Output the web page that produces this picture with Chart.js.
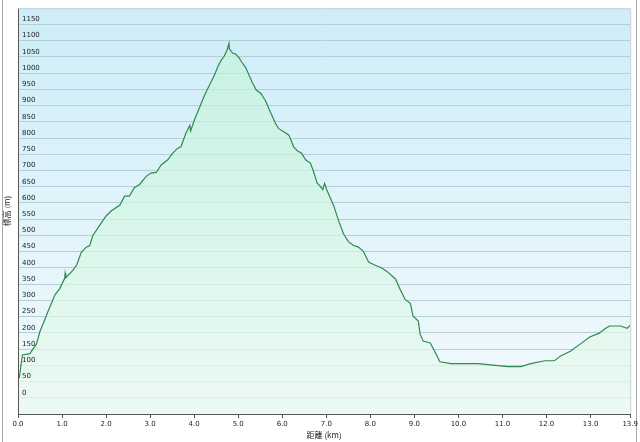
<!DOCTYPE html>
<html>
<head>
<meta charset="utf-8">
<script src="https://cdn.jsdelivr.net/npm/chart.js@4.4.1/dist/chart.umd.min.js"></script>
<style>
	html, body { margin: 0; padding: 0; background: #fff; }
	#wrap { width: 640px; height: 442px; position: relative; }
</style>
</head>
<body>
<div id="wrap"><canvas id="profile" width="640" height="442"></canvas></div>
<script>
// Distance along the route (km) and elevation (m)
var distKm = [0.0, 0.03, 0.1, 0.27, 0.42, 0.5, 0.61, 0.68, 0.84, 0.95, 1.06, 1.07, 1.085, 1.25, 1.33, 1.44, 1.55, 1.63, 1.7, 1.85,
	2.0, 2.12, 2.31, 2.42, 2.53, 2.64, 2.76, 2.91, 3.02, 3.14, 3.25, 3.4, 3.51, 3.62, 3.7, 3.81, 3.9, 3.92, 4.0, 4.11,
	4.23, 4.34, 4.45, 4.53, 4.6, 4.68, 4.75, 4.79, 4.8, 4.87, 4.94, 5.02, 5.09, 5.17, 5.32, 5.41, 5.51, 5.62, 5.73, 5.85,
	5.92, 6.07, 6.15, 6.26, 6.34, 6.44, 6.53, 6.64, 6.71, 6.79, 6.86, 6.92, 6.96, 7.01, 7.17, 7.28, 7.39, 7.5, 7.62, 7.73,
	7.84, 7.96, 8.11, 8.26, 8.37, 8.57, 8.68, 8.79, 8.91, 8.97, 9.09, 9.13, 9.2, 9.36, 9.43, 9.58, 9.83, 10.44, 10.9, 11.12,
	11.42, 11.64, 11.96, 12.18, 12.32, 12.55, 12.77, 12.98, 13.2, 13.31, 13.43, 13.68, 13.83, 13.9];
var elevM = [60, 62, 132, 136, 166, 205, 241, 266, 317, 337, 368, 383, 370, 393, 408, 449, 464, 469, 500, 530,
	560, 576, 593, 621, 621, 647, 657, 682, 692, 694, 717, 733, 753, 768, 773, 814, 839, 822, 854, 890,
	930, 961, 991, 1017, 1037, 1052, 1072, 1092, 1075, 1062, 1059, 1047, 1032, 1017, 971, 948, 938, 915, 880, 844,
	829, 816, 809, 773, 761, 753, 733, 723, 697, 662, 652, 641, 660, 641, 591, 545, 505, 481, 469, 464,
	451, 418, 408, 400, 390, 366, 333, 303, 290, 251, 236, 196, 175, 169, 151, 111, 105, 105, 99, 96,
	96, 105, 114, 114, 129, 144, 166, 187, 199, 211, 221, 221, 214, 223];

// Tick labels
var xTicks = [0, 1, 2, 3, 4, 5, 6, 7, 8, 9, 10, 11, 12, 13, 13.9];
var yTicks = [0, 50, 100, 150, 200, 250, 300, 350, 400, 450, 500, 550, 600, 650, 700, 750, 800, 850, 900, 950, 1000, 1050, 1100, 1150];

var points = [];
for (var i = 0; i < distKm.length; i++)
	points.push({ x: distKm[i], y: elevM[i] });

// Background, frame and plot border
var framePlugin = {
	id: 'frame',
	beforeDraw: function(chart) {
		var c = chart.ctx, a = chart.chartArea;
		c.save();
		c.fillStyle = '#ffffff';
		c.fillRect(0, 0, chart.width, chart.height);
		var g = c.createLinearGradient(0, a.top, 0, a.bottom);
		g.addColorStop(0, '#cdedf8');
		g.addColorStop(1, '#f3fafd');
		c.fillStyle = g;
		c.fillRect(a.left, a.top, a.right - a.left, a.bottom - a.top);
		c.strokeStyle = '#a8a8a8';
		c.lineWidth = 1;
		c.beginPath();
		c.moveTo(2.5, 0); c.lineTo(2.5, chart.height);
		c.moveTo(636.5, 0); c.lineTo(636.5, chart.height);
		c.stroke();
		c.restore();
	},
	afterDraw: function(chart) {
		var c = chart.ctx, a = chart.chartArea;
		c.save();
		c.strokeStyle = '#c4d2d6';
		c.lineWidth = 1;
		c.beginPath();
		c.moveTo(a.left, a.top + 0.5); c.lineTo(a.right + 0.5, a.top + 0.5);
		c.lineTo(a.right + 0.5, a.bottom);
		c.stroke();
		c.restore();
	}
};

function fillGradient(context)
{
	var a = context.chart.chartArea;
	if (!a)
		return '#dff6ea';
	var g = context.chart.ctx.createLinearGradient(0, a.top, 0, a.bottom);
	g.addColorStop(0, 'rgba(190,242,212,0.6)');
	g.addColorStop(1, 'rgba(234,250,240,0.75)');
	return g;
}

var tickFont = { family: 'DejaVu Sans', size: 7 };

new Chart(document.getElementById('profile'), {
	type: 'line',
	data: {
		datasets: [{
			data: points,
			borderColor: '#2f8a4e',
			borderWidth: 1.2,
			backgroundColor: fillGradient,
			fill: 'start',
			pointRadius: 0,
			tension: 0
		}]
	},
	options: {
		responsive: false,
		animation: false,
		events: [],
		layout: { padding: { left: 0, top: 3, right: 7, bottom: 0 } },
		plugins: { legend: { display: false }, tooltip: { enabled: false } },
		scales: {
			x: {
				type: 'linear',
				min: 0,
				max: 13.9,
				afterBuildTicks: function(scale) {
					scale.ticks = xTicks.map(function(v) { return { value: v }; });
				},
				afterFit: function(scale) { scale.height = 28; },
				ticks: {
					autoSkip: false,
					maxRotation: 0,
					padding: 2,
					color: '#222',
					font: tickFont,
					callback: function(v) { return Number(v).toFixed(1); }
				},
				grid: { drawOnChartArea: false, drawTicks: true, tickLength: 4, color: '#555' },
				border: { display: true, color: '#555', width: 1, z: 1 },
				title: { display: true, text: '距離 (km)', color: '#222', font: { family: 'Noto Sans CJK JP', size: 8 }, padding: { top: 0, bottom: 2 } }
			},
			y: {
				min: -50,
				max: 1200,
				afterBuildTicks: function(scale) {
					scale.ticks = yTicks.map(function(v) { return { value: v }; });
				},
				afterFit: function(scale) { scale.width = 18; },
				ticks: {
					z: 1,
					autoSkip: false,
					mirror: true,
					padding: 4,
					labelOffset: -5,
					color: '#222',
					font: tickFont,
					callback: function(v) { return String(v); }
				},
				grid: { drawTicks: false, color: '#b6ced6', lineWidth: 1 },
				border: { display: true, color: '#555', width: 1, z: 1 },
				title: { display: true, text: '標高 (m)', color: '#222', font: { family: 'Noto Sans CJK JP', size: 8 }, padding: { top: 2, bottom: 0 } }
			}
		}
	},
	plugins: [framePlugin]
});
</script>
</body>
</html>
